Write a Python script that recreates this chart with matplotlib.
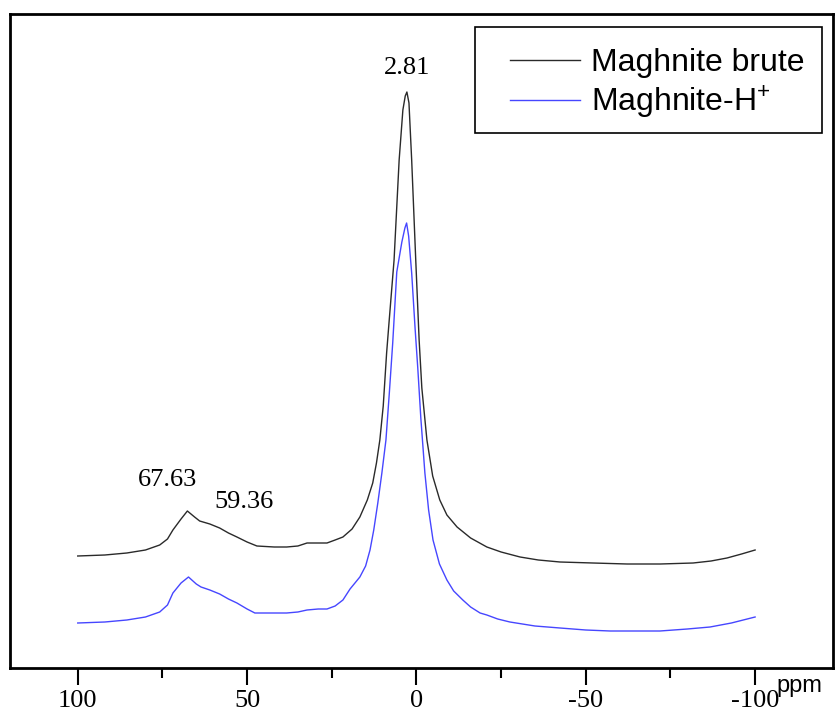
import matplotlib
matplotlib.use("Agg")
import matplotlib.pyplot as plt
from matplotlib.patches import Rectangle

# ---- data (ppm, intensity in arbitrary units) ----
brute_ppm = [100.0, 92.0, 85.5, 80.0, 75.8, 73.5, 71.9, 69.5, 67.63, 65.5, 64.0, 61.0, 58.1,
             55.5, 53.0, 50.0, 47.1, 42.0, 38.3, 35.0, 32.3, 29.0, 26.4, 24.0, 21.7, 19.0,
             16.7, 14.5, 12.9, 11.8, 10.8, 9.8, 8.8, 8.1, 6.6, 5.1, 4.0, 3.3, 2.81, 2.2,
             1.4, 0.2, -0.8, -1.6, -3.1, -4.8, -6.9, -9.0, -12.0, -16.0, -20.8, -25.0,
             -30.6, -36.0, -42.4, -52.1, -62.2, -72.0, -81.7, -87.0, -91.7, -96.0, -100.0]
brute_int = [112, 113, 115, 118, 123, 129, 138, 149, 157, 151, 147, 144, 140,
             135, 131, 126, 122, 121, 121, 122, 125, 125, 125, 128, 131, 139,
             151, 168, 185, 205, 228, 262, 315, 345, 408, 508, 558, 572, 576, 565,
             508, 408, 328, 280, 228, 192, 168, 153, 141, 130, 121, 116,
             111, 108, 106, 105, 104, 104, 105, 107, 110, 114, 118]

h_ppm = [100.0, 92.0, 85.5, 80.0, 75.8, 73.5, 71.9, 69.5, 67.3, 65.0, 63.6, 61.0, 58.1,
         55.5, 53.0, 50.0, 47.7, 42.0, 38.3, 35.0, 32.3, 29.0, 26.4, 24.0, 21.7, 19.6,
         16.7, 15.0, 13.7, 12.6, 11.4, 10.2, 9.0, 8.0, 7.0, 5.8, 4.3, 3.4, 2.9, 2.3,
         1.4, 0.4, -0.4, -1.3, -2.5, -3.6, -4.9, -6.8, -9.0, -11.0, -13.7, -16.0,
         -18.8, -20.8, -24.0, -27.6, -35.0, -42.4, -50.0, -57.2, -64.0, -71.9,
         -80.0, -86.7, -93.0, -100.0]
h_int = [45, 46, 48, 51, 56, 63, 75, 85, 91, 84, 81, 78, 74,
         69, 65, 59, 55, 55, 55, 56, 58, 59, 59, 62, 68, 79,
         91, 102, 118, 138, 165, 195, 228, 275, 325, 396, 426, 440, 445, 432,
         395, 340, 300, 250, 195, 158, 128, 104, 88, 77, 68, 61,
         55, 53, 49, 46, 42, 40, 38, 37, 37, 37, 39, 41, 45, 51]

peak_labels = ["2.81", "67.63", "59.36"]
peak_pos = [(2.81, 600), (73.4, 188), (51.0, 166)]

x_ticks = [100, 50, 0, -50, -100]
x_minor = [75, 25, -25, -75]

plt.rcParams['mathtext.fontset'] = 'custom'
plt.rcParams['mathtext.rm'] = 'Liberation Sans'

fig = plt.figure(figsize=(8.4, 7.15), dpi=100)
ax = fig.add_axes([10/840, 47/715, 823/840, 654/715])

ax.plot(brute_ppm, brute_int, color='#2a2a2a', lw=1.0, label='Maghnite brute')
ax.plot(h_ppm, h_int, color='#4646ff', lw=1.0, label='Maghnite-H$^{+}$')

ax.set_xlim(120, -123)
ax.set_ylim(0, 654)
ax.set_yticks([])
ax.set_xticks(x_ticks)
ax.set_xticks(x_minor, minor=True)
ax.set_xticklabels([str(t) for t in x_ticks], fontfamily='Liberation Serif', fontsize=19)
ax.tick_params(axis='x', which='major', direction='out', length=12, width=1.5, pad=4)
ax.tick_params(axis='x', which='minor', direction='out', length=7, width=1.5)
for s in ax.spines.values():
    s.set_linewidth(2)

for lab, (px, py) in zip(peak_labels, peak_pos):
    ax.text(px, py, lab, ha='center', va='center', fontfamily='Liberation Serif', fontsize=19)

ax.text(0.9866, -0.028, 'ppm', transform=ax.transAxes, ha='right', va='center',
        fontfamily='Liberation Sans', fontsize=17)

# legend box
ax.add_patch(Rectangle((465/823, (668-133)/654), 347/823, 106/654, transform=ax.transAxes,
                       facecolor='white', edgecolor='black', lw=1.2, zorder=4))
leg = ax.legend(loc='upper left', bbox_to_anchor=(500/823, (668-48)/654), frameon=False,
                prop={'family': 'Liberation Sans', 'size': 23},
                handlelength=2.2, handletextpad=0.35, labelspacing=0.16,
                borderpad=0, borderaxespad=0)
leg.set_zorder(5)

fig.savefig('out.png', dpi=100)
